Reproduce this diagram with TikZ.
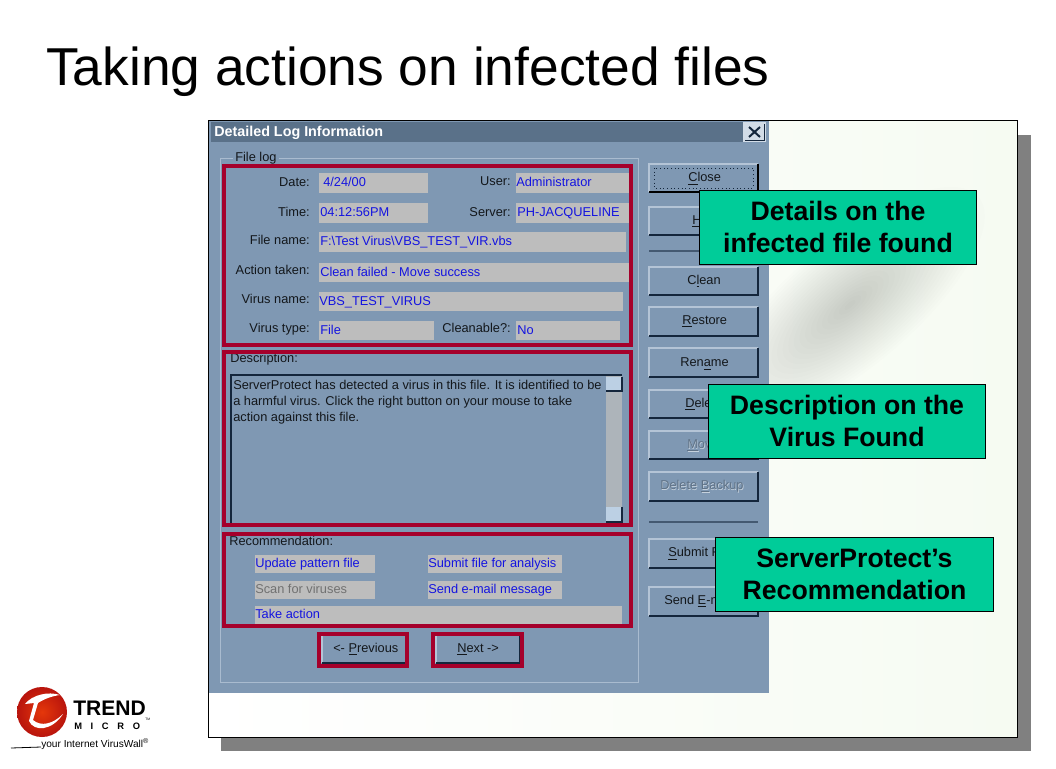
\documentclass[tikz,border=0pt]{standalone}
\usepackage{fontspec}
\setmainfont{Liberation Sans}
\definecolor{panelbg}{HTML}{F6FBF2}
\definecolor{shadowgray}{HTML}{808080}
\definecolor{dialogbg}{HTML}{7F98B3}
\definecolor{titlebg}{HTML}{5A7189}
\definecolor{fieldbg}{HTML}{BDBDBD}
\definecolor{fieldblue}{HTML}{1414E0}
\definecolor{redframe}{HTML}{A5002B}
\definecolor{calloutbg}{HTML}{00CC99}
\definecolor{btnhi}{HTML}{B4C4D6}
\definecolor{btnlo}{HTML}{14263C}
\definecolor{scrollbtn}{HTML}{BCD0E4}
\definecolor{logored}{HTML}{D9180F}
\newcommand{\dlgfont}{\fontsize{9.6}{11}\selectfont}
% one raised dialog button
\newcommand{\dlgbutton}[4]{
	\draw [line width=1.2pt, btnhi] (#1,#4) -- (#1,#2) -- (#3,#2);
	\draw [line width=1.5pt, btnlo] (#1,#4) -- (#3,#4) -- (#3,#2);
}
\tikzstyle{heading} = [anchor=base west, inner sep=0, font=\fontsize{40}{46}\selectfont]
\tikzstyle{dlglabel} = [anchor=east, inner sep=0, text height=6.8pt, text depth=1pt,
                 text=black!85!dialogbg, font=\dlgfont]
\tikzstyle{dlghead} = [anchor=west, inner sep=0, text height=6.8pt, text depth=1pt,
                 text=black!85!dialogbg, font=\dlgfont]
\tikzstyle{fieldtext} = [anchor=west, inner sep=0, text height=6.8pt, text depth=1pt,
                 text=fieldblue, font=\dlgfont]
\tikzstyle{redbox} = [line width=3pt, draw=redframe]
\tikzstyle{callout} = [rectangle, draw=black, line width=0.75pt, fill=calloutbg, inner sep=0,
                 minimum width=208pt, minimum height=55.5pt, align=center,
                 font=\fontsize{20}{24}\selectfont\bfseries]

\begin{document}
\begin{tikzpicture}[x=0.75pt, y=-0.75pt]
\useasboundingbox (0,0) rectangle (1056,768);
\fill [white] (0,0) rectangle (1056,768);

\node [heading] at (46,85) (title) {Taking actions on infected files};

	%slide panel
\fill [shadowgray] (221,135) rectangle (1031,751);
\shade [left color=white, right color=panelbg] (208,120) rectangle (1017,737);
\begin{scope}
\clip (208,120) rectangle (1017,737);
\foreach \r in {1,...,24}
	\fill [black, opacity=0.006, rotate around={40:(850,305)}] (850,305) ellipse ({\r*7} and {\r*2.6});
\end{scope}
\draw [line width=0.75pt] (208,120) rectangle (1017,737);

	%dialog
\fill [dialogbg] (209,121) rectangle (769,693);
\fill [titlebg] (211,122) rectangle (743,142);
\node [anchor=west, inner sep=0, text=white, font=\fontsize{10.75}{12}\selectfont\bfseries] at (214,133) (dlgtitle) {Detailed Log Information};
\fill [btnhi!60!white] (743,122) rectangle (766,142);
\draw [line width=1.5pt, btnlo] (749,127) -- (760,137) (760,127) -- (749,137);
\draw [line width=0.75pt, btnlo] (745,140) -- (764,140) -- (764,124);
\draw [line width=0.75pt, btnhi!80!dialogbg] (220,682) -- (220,158) -- (638,158) -- (638,682) -- cycle;

\node [dlghead, fill=dialogbg, inner xsep=1.5pt] at (233,158) (filelog) {File log};

	%labels of the file log
\foreach \nm/\x/\y/\lbl in {ldate/310/183/Date:, ltime/310/213/Time:, lfile/310/241/File name:,
		laction/310/271/Action taken:, lvirus/310/300/Virus name:, ltype/310/329/Virus type:,
		luser/511/182/User:, lserver/511/213/Server:, lclean/511/329/Cleanable?:}
	\node [dlglabel] at (\x,\y) (\nm) {\lbl};

	%value fields
\foreach \nm/\xa/\ya/\xb/\yb/\dx/\val in {
		fdate/319/173/428/193/4/{4/24/00},
		ftime/319/203/428/223/1/{04:12:56PM},
		fuser/516/173/631/193/0/{Administrator},
		fserver/516/203/631/223/1/{PH-JACQUELINE},
		ffile/319/232/626/252/1/{F:\textbackslash Test Virus\textbackslash VBS\_TEST\_VIR.vbs},
		faction/319/263/631/282/1/{Clean failed - Move success},
		fvirus/319/292/623/311/0/{VBS\_TEST\_VIRUS},
		ftype/319/321/434/340/1/{File},
		fclean/516/321/620/340/1/{No},
		fupdate/255/555/375/573/0/{Update pattern file},
		fsubmit/428/555/562/573/0/{Submit file for analysis},
		fsend/428/581/562/599/0/{Send e-mail message},
		ftake/255/606/622/624/0/{Take action}}{
	\fill [fieldbg] (\xa,\ya) rectangle (\xb,\yb);
	\node [fieldtext] at ({\xa+\dx},{(\ya+\yb)/2}) (\nm) {\val};
}
\fill [fieldbg] (255,581) rectangle (375,599);
\node [fieldtext, text=black!40!fieldbg] at (255,590) (fscan) {Scan for viruses};

	%description
\node [dlghead] at (230,359) (ldesc) {Description:};
\draw [line width=1pt, btnlo] (231,523) -- (231,375) -- (622,375);
\fill [fieldbg!75!dialogbg] (606,376) rectangle (622,523);
\foreach \y/\h in {377/391, 507/522}{
	\fill [scrollbtn] (606,\y) rectangle (621,\h);
	\draw [line width=0.9pt, btnlo] (606,\h) -- (622,\h) -- (622,\y);
}
\node [anchor=north west, inner sep=0, text=black!85!dialogbg, align=left,
	font=\fontsize{9.6}{12}\selectfont] at (233,380) (desc)
	{ServerProtect has detected a virus in this file. It is identified to be\\
	a harmful virus. Click the right button on your mouse to take\\
	action against this file.};
\node [dlghead] at (229,542) (lrec) {Recommendation:};

	%buttons on the right
\foreach \ya/\yb in {164/192, 207/235, 267/295, 307/336, 348/377, 390/418, 431/459, 472/501, 539/568, 587/616}
	\dlgbutton{649}{\ya}{758}{\yb}
\draw [line width=1.5pt, black] (649,192) -- (758,192) -- (758,164);
\draw [line width=0.75pt, dotted, btnlo] (654,168) rectangle (753,188);
\foreach \y in {251,522}
	\draw [line width=1pt, btnlo!55!dialogbg] (649,\y) -- (758,\y);
\foreach \nm/\x/\y/\lbl in {bclose/688/178/\underline{C}lose, bhelp/692/221/\underline{H},
		bclean/687/281/C\underline{l}ean, brestore/682/321/\underline{R}estore,
		brename/680/363/Ren\underline{a}me, bdelete/685/404/\underline{D}ele,
		bsubmit/668/553/\underline{S}ubmit F, bsend/664/601/Send \underline{E}-m}
	\node [dlghead] at (\x,\y) (\nm) {\lbl};
\foreach \nm/\x/\y/\lbl in {bmove/687/445/\underline{M}ov, bbackup/660/486/Delete \underline{B}ackup}{
	\node [dlghead, text=white!55!dialogbg] at (\x+0.7,\y+0.7) (\nm s) {\lbl};
	\node [dlghead, text=black!25!dialogbg] at (\x,\y) (\nm) {\lbl};
}

	%previous and next
\dlgbutton{322}{635}{406}{663}
\dlgbutton{436}{635}{520}{663}
\node [dlghead] at (333,649) (bprev) {<- \underline{P}revious};
\node [dlghead] at (457,649) (bnext) {\underline{N}ext ->};

	%red frames
\foreach \xa/\ya/\xb/\yb in {224/166/631/345, 224/352/631/525, 224/534/631/626, 319/634/407/666, 433/634/522/666}
	\draw [redbox] (\xa,\ya) rectangle (\xb,\yb);

	%callouts
\node [callout] at (838,227) (cdetails) {Details on the\\infected file found};
\node [callout] at (847,421) (cdesc) {Description on the\\Virus Found};
\node [callout] at (854.5,574) (crec) {ServerProtect’s\\Recommendation};

	%logo
\shade [inner color=logored!70!orange, outer color=logored!85!black] (42,712) circle (25);
\fill [white] (60,695) .. controls (48,691) and (32,695) .. (25,704)
	-- (34,703) -- (29,721) .. controls (34,732) and (52,731) .. (63,714)
	.. controls (53,724) and (41,727) .. (33,720) -- (38,703)
	.. controls (44,699) and (52,696) .. (60,695) -- cycle;
\node [anchor=base west, inner sep=0, font=\fontsize{15.8}{18}\selectfont\bfseries] at (73,715) (ltrend) {TREND};
\node [anchor=base west, inner sep=0, font=\fontsize{7}{8}\selectfont\bfseries] at (74,729) (lmicro) {M\hspace{6.5pt}I\hspace{6.5pt}C\hspace{6.5pt}R\hspace{6.5pt}O};
\node [anchor=base west, inner sep=0, font=\fontsize{2.5}{3}\selectfont] at (145,720) (ltm) {TM};
\node [anchor=base west, inner sep=0, font=\fontsize{7.6}{8}\selectfont] at (41,747) (ltag) {your Internet VirusWall\textsuperscript{®}};
\draw [line width=0.6pt] (11,748) -- (ltag.base west);
\end{tikzpicture}
\end{document}
